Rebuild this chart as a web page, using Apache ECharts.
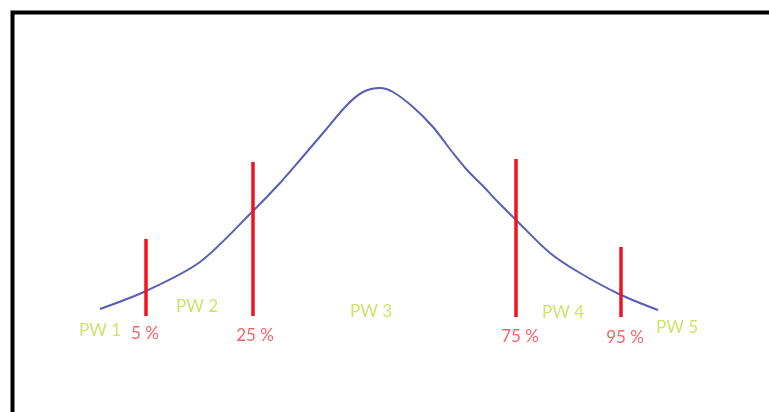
<!DOCTYPE html>
<html>
<head>
<meta charset="utf-8">
<script src="https://cdn.jsdelivr.net/npm/echarts@6/dist/echarts.min.js"></script>
<style>html,body{margin:0;padding:0;background:#fff}#c{width:769px;height:412px}</style>
</head>
<body>
<div id="c"></div>
<script>
// Curve (x position, y position; y grows downward)
const curveX = [100,146,200,253,280,300,323,347,363,380,393,413,433,453,467,482,498,516,550,580,621,658];
const curveY = [309,291,262,211,183,160,133,105,92,88,92,107,127,153,170,185,202,220,253,273,295,310];

// Percentile markers
const pctLabels = ['5 %','25 %','75 %','95 %'];
const pctX = [146,253,516,621];
const pctTop = [239,162,159,247];
const pctBottom = [316,316,317,317];
const pctLabelX = [145,255,520,625];
const pctLabelY = [334,336,337,338];

// Zone labels
const pwLabels = ['PW 1','PW 2','PW 3','PW 4','PW 5'];
const pwX = [100,197,371,563,677];
const pwY = [331,307,312,313,328];

const chart = echarts.init(document.getElementById('c'), null, {renderer:'canvas'});

const series = [];
series.push({
  type:'line', smooth:0.3, symbol:'none', silent:true,
  data: curveX.map((x,i)=>[x,curveY[i]]),
  lineStyle:{color:'#5a5fb6', width:2}, z:3
});
pctX.forEach((x,i)=>{
  series.push({
    type:'line', symbol:'none', silent:true,
    data:[[x,pctTop[i]],[x,pctBottom[i]]],
    lineStyle:{color:'#f0141e', width:3.5}, z:4
  });
});
series.push({
  type:'scatter', symbolSize:0, silent:true,
  data: pctLabels.map((t,i)=>({value:[pctLabelX[i],pctLabelY[i]], name:t})),
  label:{show:true, position:'inside', formatter:p=>p.name, color:'#f03c46',
         fontFamily:'Lato', fontSize:17}
});
series.push({
  type:'scatter', symbolSize:0, silent:true,
  data: pwLabels.map((t,i)=>({value:[pwX[i],pwY[i]], name:t})),
  label:{show:true, position:'inside', formatter:p=>p.name, color:'#c0dc42',
         fontFamily:'Lato', fontSize:17}
});

chart.setOption({
  animation:false,
  backgroundColor:'#ffffff',
  grid:{left:0,right:0,top:0,bottom:0},
  xAxis:{type:'value', min:0, max:769, show:false},
  yAxis:{type:'value', min:0, max:412, inverse:true, show:false},
  graphic:[{
    type:'rect', silent:true,
    shape:{x:12.5, y:12.5, width:820, height:460},
    style:{fill:null, stroke:'#000', lineWidth:4}
  }],
  series: series
});
</script>
</body>
</html>
